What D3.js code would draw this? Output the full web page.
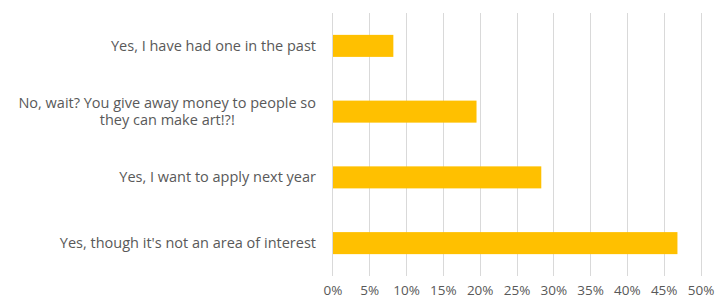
<!DOCTYPE html>
<html><head><meta charset="utf-8">
<script src="https://cdn.jsdelivr.net/npm/d3@7"></script>
<style>body{margin:0;background:#fff}svg{display:block}</style>
</head><body>
<script>
const categories = [
  ["Yes, I have had one in the past"],
  ["No, wait? You give away money to people so", "they can make art!?!"],
  ["Yes, I want to apply next year"],
  ["Yes, though it's not an area of interest"]
];
const values = [0.082, 0.195, 0.283, 0.468];
const ticks = [0,0.05,0.10,0.15,0.20,0.25,0.30,0.35,0.40,0.45,0.50];

const W=718,H=304;
const svg=d3.select("body").append("svg").attr("width",W).attr("height",H);
const x=d3.scaleLinear().domain([0,0.5]).range([332.5,700.5]);
const y=d3.scaleBand().domain(d3.range(categories.length)).range([13,276]).paddingInner(0.665).paddingOuter(0.3325);
const font="'Open Sans', 'Liberation Sans', Arial, sans-serif";
const textCol="#595959";
const labelSize="14.5px";

// gridlines
svg.append("g").selectAll("line").data(ticks.slice(1)).join("line")
  .attr("x1",d=>Math.round(x(d))+0.5).attr("x2",d=>Math.round(x(d))+0.5)
  .attr("y1",13).attr("y2",276).attr("stroke","#d9d9d9").attr("stroke-width",1);
// axis line
svg.append("line").attr("x1",x(0)).attr("x2",x(0)).attr("y1",13).attr("y2",276)
  .attr("stroke","#d9d9d9").attr("stroke-width",1);

// bars
svg.append("g").selectAll("rect").data(values).join("rect")
  .attr("x",x(0)+0.5).attr("y",(d,i)=>y(i)).attr("width",d=>x(d)-x(0))
  .attr("height",y.bandwidth()).attr("fill","#ffc000");

// x tick labels
const xa=d3.axisBottom(x).tickValues(ticks).tickFormat(d3.format(".0%")).tickSize(0).tickPadding(0);
const gx=svg.append("g").attr("transform","translate(0,284)").call(xa);
gx.select(".domain").remove();
gx.selectAll("text").attr("font-family",font).attr("font-size","13.5px").attr("fill",textCol).attr("dy","0.85em");

// category labels
const gl=svg.append("g");
categories.forEach((lines,i)=>{
  const cy=y(i)+y.bandwidth()/2;
  const lh=17.5;
  if(lines.length===1){
    gl.append("text").attr("x",316).attr("y",cy).attr("dy","0.35em").attr("text-anchor","end")
      .attr("font-family",font).attr("font-size",labelSize).attr("fill",textCol).text(lines[0]);
  } else {
    const t=gl.append("text").attr("font-family",font).attr("font-size",labelSize).attr("fill",textCol);
    t.append("tspan").attr("x",316).attr("y",cy-lh/2).attr("dy","0.35em").attr("text-anchor","end").text(lines[0]);
    const w=t.node().getBBox().width;
    lines.slice(1).forEach((l,k)=>{
      gl.append("text").attr("x",316-w/2).attr("y",cy+lh/2+k*lh).attr("dy","0.35em").attr("text-anchor","middle")
        .attr("font-family",font).attr("font-size",labelSize).attr("fill",textCol).text(l);
    });
  }
});
</script>
</body></html>
